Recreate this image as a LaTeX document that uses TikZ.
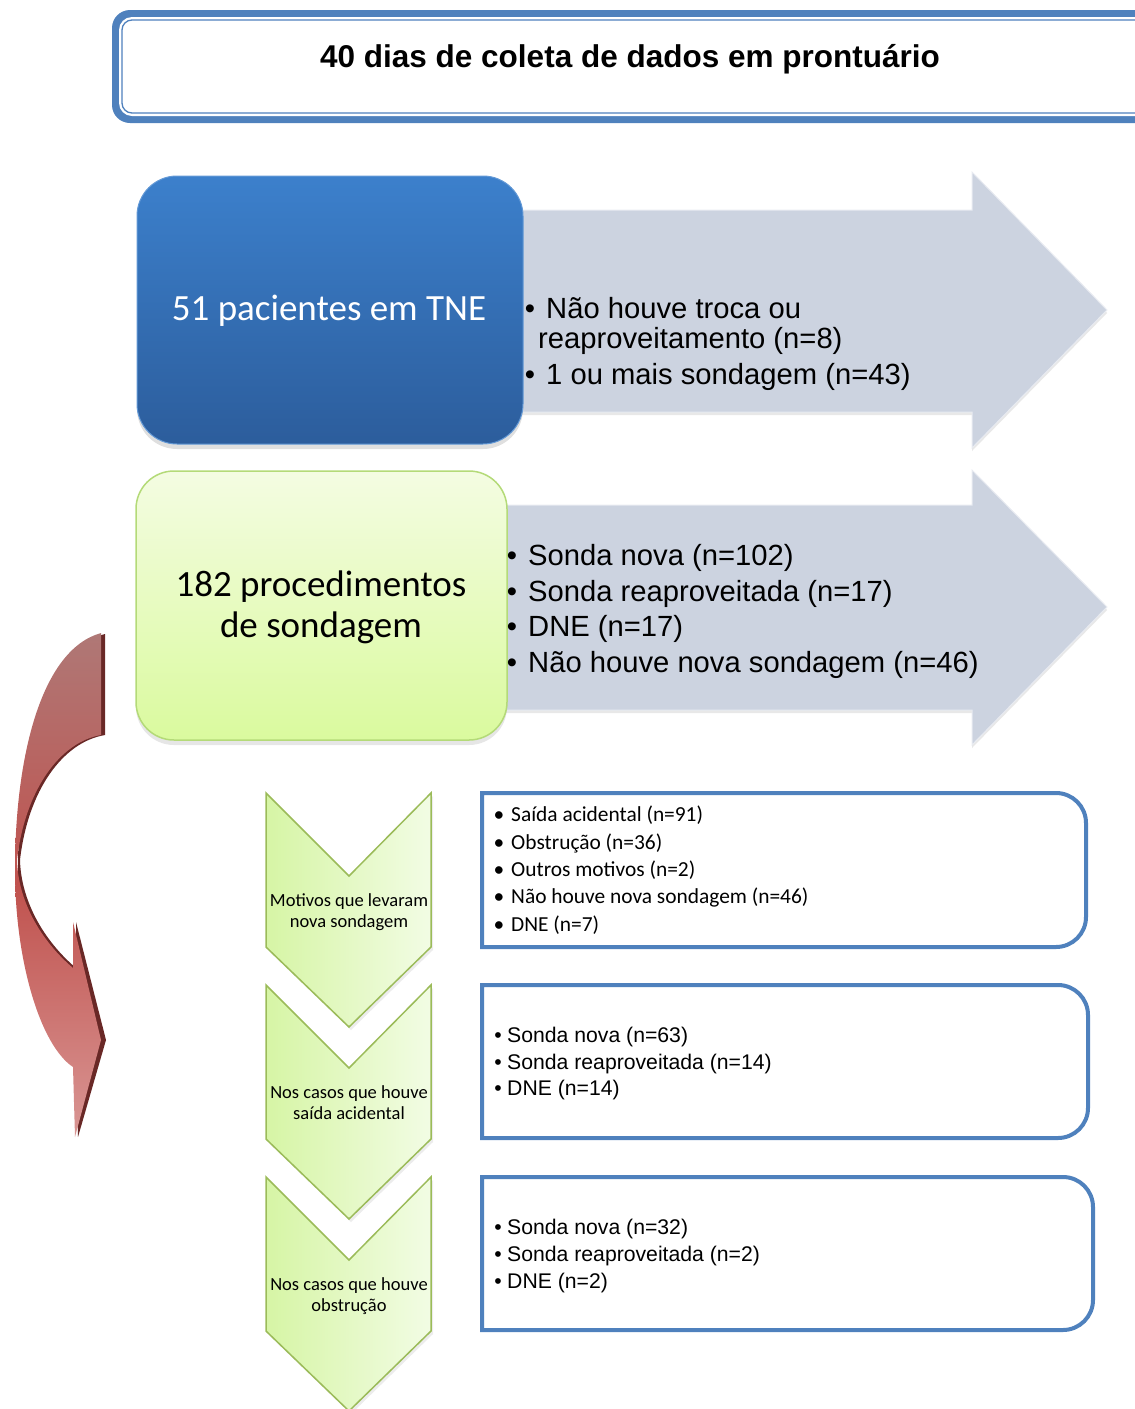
\documentclass[tikz,border=0pt]{standalone}
\usepackage{fontspec}
\setmainfont{Liberation Sans}
\newfontfamily\calfont{Carlito}
\usetikzlibrary{shadows}

\definecolor{frameblue}{RGB}{79,129,189}
\definecolor{boxtop}{RGB}{60,128,204}
\definecolor{boxbot}{RGB}{44,93,156}
\definecolor{arrowgray}{RGB}{204,211,224}
\definecolor{greentop}{RGB}{244,252,226}
\definecolor{greenbot}{RGB}{218,250,158}
\definecolor{greenline}{RGB}{180,218,120}
\definecolor{chevL}{RGB}{214,245,165}
\definecolor{chevR}{RGB}{242,252,228}
\definecolor{chevline}{RGB}{155,187,89}
\definecolor{redtop}{RGB}{175,120,118}
\definecolor{redmid}{RGB}{192,82,78}
\definecolor{redbot}{RGB}{217,150,148}
\definecolor{reddark}{RGB}{105,40,38}

\tikzset{
  bigarrow/.style={fill=arrowgray, draw=white!55!arrowgray, line width=1pt,
    drop shadow={shadow xshift=0pt, shadow yshift=-3pt, opacity=0.18}},
  chevron/.style={left color=chevL, right color=chevR, draw=chevline, line width=1.5pt,
    drop shadow={shadow xshift=2pt, shadow yshift=-3pt, opacity=0.15}},
  listframe/.style={draw=frameblue, line width=4pt, fill=white},
  arialbig/.style={inner sep=0pt, anchor=base west, font=\fontsize{29.2}{34}\selectfont},
  arialbul/.style={inner sep=0pt, anchor=base, font=\fontsize{29.2}{34}\selectfont},
  calmid/.style={inner sep=0pt, anchor=base west, font=\calfont\fontsize{21.4}{25}\selectfont},
  calbul/.style={inner sep=0pt, anchor=base, font=\calfont\fontsize{21.4}{25}\selectfont},
  arialmid/.style={inner sep=0pt, anchor=base west, font=\fontsize{21.2}{25}\selectfont},
  arialmbul/.style={inner sep=0pt, anchor=base, font=\fontsize{21.2}{25}\selectfont},
  chevtext/.style={inner sep=0pt, anchor=base, font=\calfont\fontsize{18.5}{22}\selectfont},
}

\begin{document}
\begin{tikzpicture}[x=1pt,y=-1pt]
\useasboundingbox (0,0) rectangle (1135,1409);
\clip (0,0) rectangle (1135,1409);

% ---------- title box ----------
\fill[frameblue, rounded corners=18] (112,10) rectangle (1175,123);
\fill[white, rounded corners=13] (119,17) rectangle (1168,116);
\draw[frameblue, line width=1.3pt, rounded corners=10] (122,20) rectangle (1165,113);
\node[inner sep=0pt, anchor=base, font=\bfseries\fontsize{31.5}{36}\selectfont] (title) at (630,67)
  {40 dias de coleta de dados em prontuário};

% ---------- gray arrows ----------
\path[bigarrow] (505,210) -- (972,210) -- (972,172) -- (1107,310) -- (972,448)
   -- (972,412) -- (505,412) -- cycle;
\path[bigarrow] (490,505) -- (972,505) -- (972,470) -- (1107,607) -- (972,745)
   -- (972,710) -- (490,710) -- cycle;

% ---------- blue box ----------
\node[rectangle, rounded corners=40, minimum width=386pt, minimum height=268pt,
      top color=boxtop, bottom color=boxbot, draw=boxtop!80!white, line width=1pt,
      drop shadow={shadow xshift=0pt, shadow yshift=-5pt, opacity=0.25}] (pac) at (330,310) {};
\node[inner sep=0pt, anchor=base, text=white, font=\calfont\fontsize{37}{44}\selectfont]
  (pactext) at (329,320) {51 pacientes em TNE};

% ---------- green box ----------
\node[rectangle, rounded corners=38, minimum width=371pt, minimum height=269pt,
      top color=greentop, bottom color=greenbot, draw=greenline, line width=1.5pt,
      drop shadow={shadow xshift=0pt, shadow yshift=-5pt, opacity=0.2}] (proc) at (321.5,605.5) {};
\node[inner sep=0pt, anchor=base, font=\calfont\fontsize{37}{44}\selectfont] (proc1) at (321,596) {182 procedimentos};
\node[inner sep=0pt, anchor=base, font=\calfont\fontsize{37}{44}\selectfont] (proc2) at (321,637) {de sondagem};

% ---------- arrow 1 text ----------
\node[arialbul] (b11) at (530,318) {•};
\node[arialbig] (t11) at (546,318) {Não houve troca ou};
\node[arialbig] (t12) at (538,348) {reaproveitamento (n=8)};
\node[arialbul] (b13) at (530,384) {•};
\node[arialbig] (t13) at (546,384) {1 ou mais sondagem (n=43)};

% ---------- arrow 2 text ----------
\node[arialbul] (b21) at (512,565) {•};
\node[arialbig] (t21) at (528,565) {Sonda nova (n=102)};
\node[arialbul] (b22) at (512,601) {•};
\node[arialbig] (t22) at (528,601) {Sonda reaproveitada (n=17)};
\node[arialbul] (b23) at (512,636) {•};
\node[arialbig] (t23) at (528,636) {DNE (n=17)};
\node[arialbul] (b24) at (512,672) {•};
\node[arialbig] (t24) at (528,672) {Não houve nova sondagem (n=46)};

% ---------- red curved arrow ----------
\path[fill=reddark] ([xshift=3pt,yshift=-1pt]102,633) .. controls ([xshift=3pt]40,650) and ([xshift=3pt]15,760) .. ([xshift=3pt]15,870)
   .. controls ([xshift=3pt]15,960) and ([xshift=3pt]40,1045) .. ([xshift=3pt]73,1067)
   -- ([xshift=3pt]75,1137) -- ([xshift=3pt]103,1040) -- ([xshift=3pt]73,922) -- ([xshift=3pt]73,968)
   .. controls ([xshift=3pt]40,940) and ([xshift=3pt]18,900) .. ([xshift=3pt]17,860)
   .. controls ([xshift=3pt]25,790) and ([xshift=3pt]60,742) .. ([xshift=3pt]102,735) -- cycle;
\path[top color=redtop, bottom color=redbot, middle color=redmid]
   (101,633) .. controls (40,650) and (15,760) .. (15,870)
   .. controls (15,960) and (40,1045) .. (73,1067)
   -- (75,1137) -- (101,1040) -- (73,922) -- (73,968)
   .. controls (40,940) and (18,900) .. (17,860)
   .. controls (25,790) and (60,742) .. (101,735) -- cycle;

% ---------- chevrons ----------
\path[chevron] (266,793) -- (349,876) -- (431,793) -- (431,947) -- (349,1027) -- (266,947) -- cycle;
\path[chevron] (266,985) -- (349,1068) -- (431,985) -- (431,1139) -- (349,1219) -- (266,1139) -- cycle;
\path[chevron] (266,1177) -- (349,1260) -- (431,1177) -- (431,1331) -- (349,1411) -- (266,1331) -- cycle;
\node[chevtext] (c1a) at (349,906) {Motivos que levaram};
\node[chevtext] (c1b) at (349,927) {nova sondagem};
\node[chevtext] (c2a) at (349,1098) {Nos casos que houve};
\node[chevtext] (c2b) at (349,1119) {saída acidental};
\node[chevtext] (c3a) at (349,1290) {Nos casos que houve};
\node[chevtext] (c3b) at (349,1311) {obstrução};

% ---------- list boxes ----------
\path[listframe] (482,793) -- (1056,793) arc[start angle=-90, end angle=0, radius=30]
   -- (1086,917) arc[start angle=0, end angle=90, radius=30] -- (482,947) -- cycle;
\path[listframe] (482,985) -- (1058,985) arc[start angle=-90, end angle=0, radius=30]
   -- (1088,1108) arc[start angle=0, end angle=90, radius=30] -- (482,1138) -- cycle;
\path[listframe] (482,1177) -- (1063,1177) arc[start angle=-90, end angle=0, radius=30]
   -- (1093,1300) arc[start angle=0, end angle=90, radius=30] -- (482,1330) -- cycle;

\node[calbul] (m1b) at (499,821) {•};
\node[calmid] (m1) at (511,821) {Saída acidental (n=91)};
\node[calbul] (m2b) at (499,849) {•};
\node[calmid] (m2) at (511,849) {Obstrução (n=36)};
\node[calbul] (m3b) at (499,876) {•};
\node[calmid] (m3) at (511,876) {Outros motivos (n=2)};
\node[calbul] (m4b) at (499,903) {•};
\node[calmid] (m4) at (511,903) {Não houve nova sondagem (n=46)};
\node[calbul] (m5b) at (499,931) {•};
\node[calmid] (m5) at (511,931) {DNE (n=7)};

\node[arialmbul] (s1b) at (498,1042) {•};
\node[arialmid] (s1) at (507,1042) {Sonda nova (n=63)};
\node[arialmbul] (s2b) at (498,1069) {•};
\node[arialmid] (s2) at (507,1069) {Sonda reaproveitada (n=14)};
\node[arialmbul] (s3b) at (498,1095) {•};
\node[arialmid] (s3) at (507,1095) {DNE (n=14)};

\node[arialmbul] (o1b) at (498,1234) {•};
\node[arialmid] (o1) at (507,1234) {Sonda nova (n=32)};
\node[arialmbul] (o2b) at (498,1261) {•};
\node[arialmid] (o2) at (507,1261) {Sonda reaproveitada (n=2)};
\node[arialmbul] (o3b) at (498,1288) {•};
\node[arialmid] (o3) at (507,1288) {DNE (n=2)};
\end{tikzpicture}
\end{document}
